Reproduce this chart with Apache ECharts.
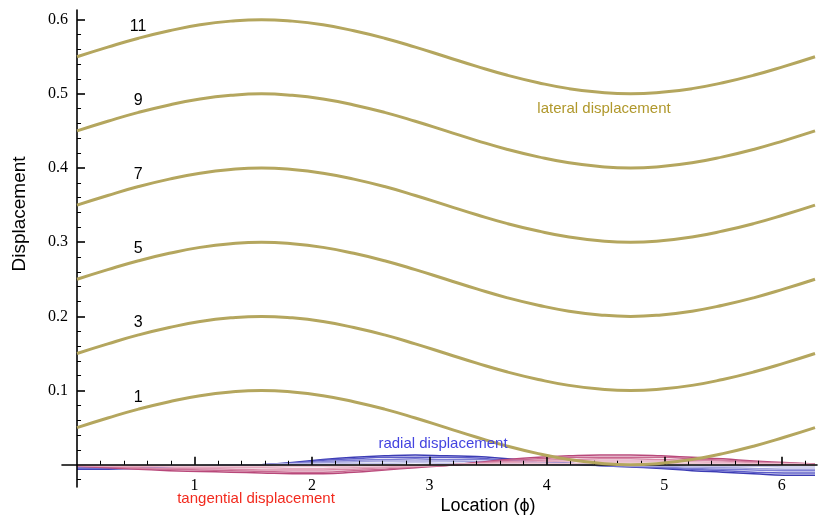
<!DOCTYPE html>
<html><head><meta charset="utf-8">
<script src="https://cdn.jsdelivr.net/npm/echarts@6/dist/echarts.min.js"></script>
<style>html,body{margin:0;padding:0;background:#fff}#c{width:820px;height:519px}</style>
</head><body><div id="c"></div>
<script>
// Location (phi) sample points
const phi = [0,0.2618,0.5236,0.7854,1.0472,1.3090,1.5708,1.8326,2.0944,2.3562,2.6180,2.8798,3.1416,3.4034,3.6652,3.9270,4.1888,4.4506,4.7124,4.9742,5.2360,5.4978,5.7596,6.0214,6.2832];

// lateral displacement curves (cases 1,3,5,7,9,11)
const lateral1  = [0.050,0.063,0.075,0.085,0.093,0.098,0.100,0.098,0.093,0.085,0.075,0.063,0.050,0.037,0.025,0.015,0.007,0.002,0.000,0.002,0.007,0.015,0.025,0.037,0.050];
const lateral3  = [0.150,0.163,0.175,0.185,0.193,0.198,0.200,0.198,0.193,0.185,0.175,0.163,0.150,0.137,0.125,0.115,0.107,0.102,0.100,0.102,0.107,0.115,0.125,0.137,0.150];
const lateral5  = [0.250,0.263,0.275,0.285,0.293,0.298,0.300,0.298,0.293,0.285,0.275,0.263,0.250,0.237,0.225,0.215,0.207,0.202,0.200,0.202,0.207,0.215,0.225,0.237,0.250];
const lateral7  = [0.350,0.363,0.375,0.385,0.393,0.398,0.400,0.398,0.393,0.385,0.375,0.363,0.350,0.337,0.325,0.315,0.307,0.302,0.300,0.302,0.307,0.315,0.325,0.337,0.350];
const lateral9  = [0.450,0.463,0.475,0.485,0.493,0.498,0.500,0.498,0.493,0.485,0.475,0.463,0.450,0.437,0.425,0.415,0.407,0.402,0.400,0.402,0.407,0.415,0.425,0.437,0.450];
const lateral11 = [0.550,0.563,0.575,0.585,0.593,0.598,0.600,0.598,0.593,0.585,0.575,0.563,0.550,0.537,0.525,0.515,0.507,0.502,0.500,0.502,0.507,0.515,0.525,0.537,0.550];
const curveNames = ['1','3','5','7','9','11'];

// radial displacement curves
const radialA = [-0.006,-0.006,-0.005,-0.005,-0.004,-0.002,0.000,0.003,0.007,0.010,0.012,0.013,0.012,0.011,0.008,0.005,0.002,-0.001,-0.003,-0.005,-0.008,-0.010,-0.012,-0.014,-0.014];
const radialB = [-0.005,-0.005,-0.004,-0.004,-0.003,-0.002,0.000,0.002,0.006,0.008,0.010,0.010,0.010,0.009,0.006,0.004,0.002,-0.001,-0.002,-0.004,-0.006,-0.008,-0.010,-0.011,-0.011];
const radialC = [-0.004,-0.004,-0.003,-0.003,-0.002,-0.001,0.000,0.002,0.004,0.006,0.007,0.008,0.007,0.007,0.005,0.003,0.001,-0.001,-0.002,-0.003,-0.005,-0.006,-0.007,-0.008,-0.008];
const radialD = [-0.002,-0.002,-0.002,-0.002,-0.002,-0.001,0.000,0.001,0.003,0.004,0.005,0.005,0.005,0.004,0.003,0.002,0.001,0.000,-0.001,-0.002,-0.003,-0.004,-0.005,-0.006,-0.006];
const radialE = [-0.001,-0.001,-0.001,-0.001,-0.001,0.000,0.000,0.001,0.001,0.002,0.002,0.003,0.002,0.002,0.002,0.001,0.000,0.000,-0.001,-0.001,-0.002,-0.002,-0.002,-0.003,-0.003];

// tangential displacement curves
const tangA = [-0.002,-0.004,-0.006,-0.008,-0.009,-0.010,-0.011,-0.012,-0.012,-0.010,-0.007,-0.004,-0.001,0.003,0.007,0.010,0.012,0.013,0.013,0.012,0.010,0.008,0.005,0.003,0.001];
const tangB = [-0.002,-0.003,-0.005,-0.006,-0.007,-0.008,-0.009,-0.010,-0.010,-0.008,-0.006,-0.003,-0.001,0.002,0.006,0.008,0.010,0.010,0.010,0.010,0.008,0.006,0.004,0.002,0.001];
const tangC = [-0.001,-0.002,-0.004,-0.005,-0.005,-0.006,-0.007,-0.007,-0.007,-0.006,-0.004,-0.002,-0.001,0.002,0.004,0.006,0.007,0.008,0.008,0.007,0.006,0.005,0.003,0.002,0.001];
const tangD = [-0.001,-0.002,-0.002,-0.003,-0.004,-0.004,-0.004,-0.005,-0.005,-0.004,-0.003,-0.002,0.000,0.001,0.003,0.004,0.005,0.005,0.005,0.005,0.004,0.003,0.002,0.001,0.000];
const tangE = [0.000,-0.001,-0.001,-0.002,-0.002,-0.002,-0.002,-0.002,-0.002,-0.002,-0.001,-0.001,0.000,0.001,0.001,0.002,0.002,0.003,0.003,0.002,0.002,0.002,0.001,0.001,0.000];

// tick values
const xMajorTicks = [1,2,3,4,5,6];
const xMinorTicks = [0.2,0.4,0.6,0.8,1.2,1.4,1.6,1.8,2.2,2.4,2.6,2.8,3.2,3.4,3.6,3.8,4.2,4.4,4.6,4.8,5.2,5.4,5.6,5.8,6.2];
const yMajorTicks = [0.1,0.2,0.3,0.4,0.5,0.6];
const yMinorTicks = [-0.02,0.02,0.04,0.06,0.08,0.12,0.14,0.16,0.18,0.22,0.24,0.26,0.28,0.32,0.34,0.36,0.38,0.42,0.44,0.46,0.48,0.52,0.54,0.56,0.58];

const OLIVE = '#b4a65e';
const radialColors = ['#3c3cb4','#5c5cc8','#7e7ed4','#a2a2de','#c6c6ea'];
const tangColors = ['#b8487a','#c86890','#d88aa8','#e4a8be','#eec6d4'];

function mk(ys, color, width, z) {
  return {
    type: 'line', xAxisIndex: 0, yAxisIndex: 0,
    data: phi.map((x, i) => [x, ys[i]]),
    showSymbol: false, smooth: true, silent: true, z: z,
    lineStyle: { color: color, width: width }
  };
}

const series = [];
[radialA, radialB, radialC, radialD, radialE].forEach((d, i) => series.push(mk(d, radialColors[i], 1.5, 2)));
[tangA, tangB, tangC, tangD, tangE].forEach((d, i) => series.push(mk(d, tangColors[i], 1.5, 2)));
const laterals = [lateral1, lateral3, lateral5, lateral7, lateral9, lateral11];
laterals.forEach(d => series.push(mk(d, OLIVE, 3, 5)));

const XMIN = -0.128, XMAX = 6.3, YMIN = -0.03, YMAX = 0.613;
const serif = '"Liberation Serif", "DejaVu Serif", serif';
const sans = '"Liberation Sans", "DejaVu Sans", sans-serif';

const chart = echarts.init(document.getElementById('c'), null, { renderer: 'canvas' });
chart.setOption({
  animation: false,
  backgroundColor: '#fff',
  grid: { left: 62, right: 3, top: 10, bottom: 32, containLabel: false },
  xAxis: [
    {
      type: 'value', min: XMIN, max: XMAX, position: 'bottom', z: 3,
      axisLine: { show: true, onZero: true, lineStyle: { color: '#000', width: 1.6 } },
      axisTick: { show: true, inside: true, length: 8, lineStyle: { color: '#000', width: 1.6 }, customValues: xMajorTicks },
      axisLabel: { show: true, customValues: xMajorTicks, margin: -9, color: '#000', fontFamily: serif, fontSize: 16 },
      splitLine: { show: false }
    },
    {
      type: 'value', min: XMIN, max: XMAX, position: 'bottom', z: 3,
      axisLine: { show: false, onZero: true },
      axisTick: { show: true, inside: true, length: 4, lineStyle: { color: '#000', width: 1 }, customValues: xMinorTicks },
      axisLabel: { show: false },
      splitLine: { show: false }
    }
  ],
  yAxis: [
    {
      type: 'value', min: YMIN, max: YMAX, position: 'left', z: 3,
      axisLine: { show: true, onZero: true, lineStyle: { color: '#000', width: 1.6 } },
      axisTick: { show: true, inside: true, length: 8, lineStyle: { color: '#000', width: 1.6 }, customValues: yMajorTicks },
      axisLabel: { show: true, customValues: yMajorTicks, margin: -6, color: '#000', fontFamily: serif, fontSize: 16,
                   formatter: v => v.toFixed(1) },
      splitLine: { show: false }
    },
    {
      type: 'value', min: YMIN, max: YMAX, position: 'left', z: 3,
      axisLine: { show: false, onZero: true },
      axisTick: { show: true, inside: true, length: 4, lineStyle: { color: '#000', width: 1 }, customValues: yMinorTicks },
      axisLabel: { show: false },
      splitLine: { show: false }
    }
  ],
  series: series
});

function txt(text, x, y, font, color, rot) {
  return {
    type: 'text', x: x, y: y, rotation: rot || 0, z: 100, silent: true,
    style: { text: text, font: font, fill: color, textAlign: 'center', textVerticalAlign: 'middle', align: 'center', verticalAlign: 'middle' }
  };
}

const g = [];
g.push(txt('Displacement', 20, 214, '19px ' + sans, '#000', Math.PI / 2));
g.push(txt('Location (\u03D5)', 488, 506, '18px ' + sans, '#000'));
g.push(txt('lateral displacement', 604, 109, '15px ' + sans, '#b0982c'));
g.push(txt('radial displacement', 443, 444, '15px ' + sans, '#4444e0'));
g.push(txt('tangential displacement', 256, 499, '15px ' + sans, '#f22a1e'));
curveNames.forEach((name, i) => {
  const p = chart.convertToPixel({ xAxisIndex: 0, yAxisIndex: 0 }, [0.52, 0.091 + 0.1 * i]);
  g.push(txt(name, p[0], p[1], '16px ' + sans, '#000'));
});
chart.setOption({ graphic: g });
</script>
</body></html>
